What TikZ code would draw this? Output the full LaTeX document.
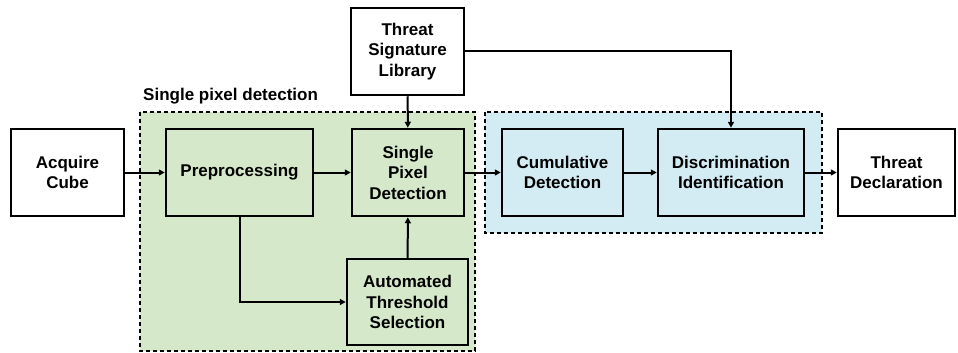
\documentclass[tikz,border=0pt]{standalone}
\usepackage{fontspec}
\setmainfont{Liberation Sans}
\usetikzlibrary{arrows.meta}
\definecolor{grn}{RGB}{213,232,201}
\definecolor{blu}{RGB}{211,236,243}
\begin{document}
\begin{tikzpicture}[x=1pt,y=-1pt,
  blk/.style={draw=black,line width=2.5pt,align=center,inner sep=0pt,
    font=\fontsize{17}{20.5}\selectfont\bfseries},
  grp/.style={draw=black,line width=1.5pt,dash pattern=on 4pt off 3pt},
  conn/.style={line width=2pt,-{Triangle[length=6pt,width=6pt]}}]
\useasboundingbox (0,0) rectangle (958,353);
\fill[grn] (140,112) rectangle (475,351);
\draw[grp] (140,112) rectangle (475,351);
\fill[blu] (485,112) rectangle (822,233);
\draw[grp] (485,112) rectangle (822,233);
\node[anchor=west,font=\fontsize{17}{20.5}\selectfont\bfseries,inner sep=0pt] (lbl) at (143,96) {Single pixel detection};
\node[blk,fill=white,minimum width=113pt,minimum height=87pt] (acq) at (67.5,172.5) {Acquire\\Cube};
\node[blk,fill=grn,minimum width=147pt,minimum height=87pt] (pre) at (239.5,172.5) {Preprocessing};
\node[blk,fill=grn,minimum width=112pt,minimum height=87pt] (spd) at (408,172.5) {Single\\Pixel\\Detection};
\node[blk,fill=grn,minimum width=121pt,minimum height=86pt] (ats) at (407.5,302) {Automated\\Threshold\\Selection};
\node[blk,fill=white,minimum width=113pt,minimum height=87pt] (tsl) at (407.5,51.5) {Threat\\Signature\\Library};
\node[blk,fill=blu,minimum width=121pt,minimum height=87pt] (cum) at (562.5,172.5) {Cumulative\\Detection};
\node[blk,fill=blu,minimum width=146pt,minimum height=87pt] (dis) at (731,172.5) {Discrimination\\Identification};
\node[blk,fill=white,minimum width=117pt,minimum height=87pt] (thr) at (896.5,172.5) {Threat\\Declaration};
\draw[conn] (acq) -- (pre);
\draw[conn] (pre) -- (spd);
\draw[conn] (spd) -- (cum);
\draw[conn] (cum) -- (dis);
\draw[conn] (dis) -- (thr);
\draw[conn] (tsl) -- (spd);
\draw[conn] (ats) -- (spd);
\draw[conn] (pre.south) |- (ats.west);
\draw[conn] (tsl.east) -| (dis.north);
\end{tikzpicture}
\end{document}
